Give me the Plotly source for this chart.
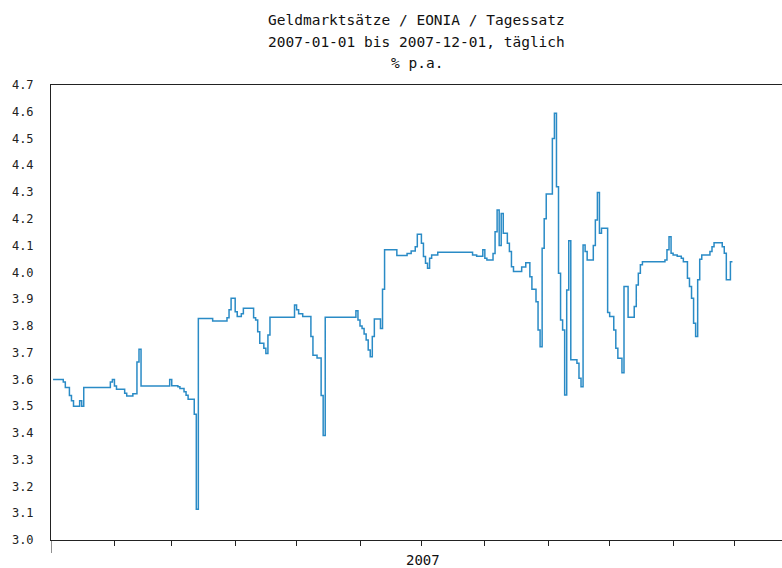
import plotly.graph_objects as go

# EONIA daily rate 2007 (change points, values held until next date)
dates = [
    "2007-01-02", "2007-01-07", "2007-01-08", "2007-01-10", "2007-01-11", "2007-01-12",
    "2007-01-15", "2007-01-16", "2007-01-17", "2007-01-30", "2007-01-31", "2007-02-01",
    "2007-02-02", "2007-02-06", "2007-02-07", "2007-02-10", "2007-02-12", "2007-02-13",
    "2007-02-14", "2007-02-28", "2007-03-01", "2007-03-04", "2007-03-05", "2007-03-07",
    "2007-03-08", "2007-03-09", "2007-03-12", "2007-03-13", "2007-03-14", "2007-03-21",
    "2007-03-28", "2007-03-29", "2007-03-30", "2007-04-01", "2007-04-02", "2007-04-04",
    "2007-04-05", "2007-04-10", "2007-04-11", "2007-04-12", "2007-04-13", "2007-04-15",
    "2007-04-16", "2007-04-17", "2007-04-18", "2007-04-30", "2007-05-01", "2007-05-02",
    "2007-05-04", "2007-05-08", "2007-05-09", "2007-05-11", "2007-05-13", "2007-05-14",
    "2007-05-15", "2007-05-30", "2007-05-31", "2007-06-01", "2007-06-02", "2007-06-03",
    "2007-06-04", "2007-06-05", "2007-06-06", "2007-06-07", "2007-06-08", "2007-06-11",
    "2007-06-12", "2007-06-13", "2007-06-19", "2007-06-24", "2007-06-26", "2007-06-28",
    "2007-06-29", "2007-07-01", "2007-07-02", "2007-07-03", "2007-07-04", "2007-07-05",
    "2007-07-06", "2007-07-09", "2007-07-26", "2007-07-28", "2007-07-31", "2007-08-01",
    "2007-08-02", "2007-08-05", "2007-08-06", "2007-08-07", "2007-08-08", "2007-08-09",
    "2007-08-10", "2007-08-12", "2007-08-13", "2007-08-14", "2007-08-15", "2007-08-19",
    "2007-08-21", "2007-08-23", "2007-08-24", "2007-08-26", "2007-08-27", "2007-08-28",
    "2007-08-29", "2007-08-30", "2007-08-31", "2007-09-03", "2007-09-04", "2007-09-05",
    "2007-09-06", "2007-09-07", "2007-09-08", "2007-09-09", "2007-09-10", "2007-09-11",
    "2007-09-12", "2007-09-15", "2007-09-16", "2007-09-17", "2007-09-18", "2007-09-19",
    "2007-09-20", "2007-09-23", "2007-09-24", "2007-09-25", "2007-09-26", "2007-09-27",
    "2007-09-30", "2007-10-01", "2007-10-03", "2007-10-04", "2007-10-05", "2007-10-07",
    "2007-10-08", "2007-10-10", "2007-10-13", "2007-10-14", "2007-10-15", "2007-10-16",
    "2007-10-17", "2007-10-28", "2007-10-29", "2007-10-30", "2007-10-31", "2007-11-01",
    "2007-11-03", "2007-11-05", "2007-11-06", "2007-11-08", "2007-11-09", "2007-11-10",
    "2007-11-11", "2007-11-12", "2007-11-13", "2007-11-14", "2007-11-15", "2007-11-19",
    "2007-11-20", "2007-11-21", "2007-11-25", "2007-11-26", "2007-11-27", "2007-11-29",
    "2007-11-30",
]
rates = [
    3.60, 3.59, 3.57, 3.54, 3.52, 3.50,
    3.52, 3.50, 3.57, 3.59, 3.60, 3.575,
    3.563, 3.548, 3.538, 3.546, 3.665, 3.713,
    3.575, 3.60, 3.576, 3.573, 3.566, 3.554,
    3.541, 3.526, 3.47, 3.115, 3.828, 3.818,
    3.83, 3.86, 3.903, 3.853, 3.835, 3.845,
    3.866, 3.83, 3.822, 3.778, 3.735, 3.716,
    3.697, 3.766, 3.832, 3.878, 3.86, 3.845,
    3.835, 3.76, 3.69, 3.68, 3.54, 3.39,
    3.832, 3.857, 3.822, 3.80, 3.79, 3.77,
    3.747, 3.71, 3.685, 3.76, 3.826, 3.79,
    3.937, 4.084, 4.063, 4.07, 4.08, 4.096,
    4.142, 4.109, 4.059, 4.034, 4.015, 4.053,
    4.065, 4.075, 4.065, 4.06, 4.084, 4.053,
    4.046, 4.07, 4.152, 4.233, 4.10, 4.22,
    4.146, 4.109, 4.078, 4.021, 4.003, 4.02,
    4.036, 3.984, 3.937, 3.89, 3.785, 3.722,
    4.09, 4.20, 4.293, 4.50, 4.594, 4.32,
    3.997, 3.822, 3.785, 3.542, 3.934, 4.118,
    3.673, 3.66, 3.604, 3.573, 4.102, 4.078,
    4.046, 4.10, 4.196, 4.298, 4.146, 4.165,
    3.85, 3.835, 3.785, 3.716, 3.679, 3.625,
    3.947, 3.832, 3.872, 3.953, 3.997, 4.028,
    4.04, 4.046, 4.084, 4.133, 4.071, 4.065,
    4.06, 4.053, 4.04, 3.978, 3.947, 3.903,
    3.81, 3.76, 3.972, 4.049, 4.065, 4.078,
    4.096, 4.111, 4.096, 4.071, 3.972, 4.04,
    4.04,
]

month_ticks = ["2007-02-01", "2007-03-01", "2007-04-01", "2007-05-01", "2007-06-01",
               "2007-07-01", "2007-08-01", "2007-09-01", "2007-10-01", "2007-11-01",
               "2007-12-01"]
title_lines = ["Geldmarktsätze / EONIA / Tagessatz",
               "2007-01-01 bis 2007-12-01, täglich",
               "% p.a."]
year_label = "2007"

MONO = "DejaVu Sans Mono"

fig = go.Figure()
fig.add_trace(go.Scatter(
    x=dates, y=rates, mode="lines", line_shape="hv",
    line=dict(color="#2a8bc6", width=1.5), hoverinfo="skip", showlegend=False,
))

fig.update_layout(
    width=782, height=568,
    margin=dict(l=51, r=0, t=85, b=28, autoexpand=False),
    paper_bgcolor="white", plot_bgcolor="white",
    showlegend=False,
    xaxis=dict(
        type="date",
        range=["2007-01-01", "2007-12-24 05:00"],
        tickvals=month_ticks, showticklabels=False,
        ticks="outside", ticklen=5, tickwidth=1, tickcolor="#222",
        showline=True, linecolor="#222", linewidth=1, mirror=True,
        showgrid=False, zeroline=False, fixedrange=True,
    ),
    yaxis=dict(
        range=[3.0, 4.7], dtick=0.1, tick0=3.0, tickformat=".1f",
        ticks="outside", ticklen=14, tickcolor="rgba(0,0,0,0)",
        tickfont=dict(family=MONO, size=12, color="#222"),
        showline=True, linecolor="#222", linewidth=1, mirror=False,
        showgrid=False, zeroline=False, fixedrange=True,
    ),
)

# left axis extension below the x axis
fig.add_shape(type="line", xref="x", yref="paper", x0="2007-01-01", x1="2007-01-01",
              y0=0, y1=-13 / 455, line=dict(color="#222", width=1))

title_y = [20, 42, 63]
for txt, py in zip(title_lines, title_y):
    fig.add_annotation(text=txt, xref="paper", yref="paper", x=0.5, y=(540 - py) / 455,
                       xanchor="center", yanchor="middle", showarrow=False,
                       font=dict(family=MONO, size=14.5, color="#111"))

fig.add_annotation(text=year_label, xref="x", yref="paper", x="2007-07-02",
                   y=(540 - 560) / 455, xanchor="center", yanchor="middle",
                   showarrow=False, font=dict(family=MONO, size=14, color="#111"))

fig.write_html("out.html", config={"displayModeBar": False},
               post_script="document.body.style.margin='0';")
